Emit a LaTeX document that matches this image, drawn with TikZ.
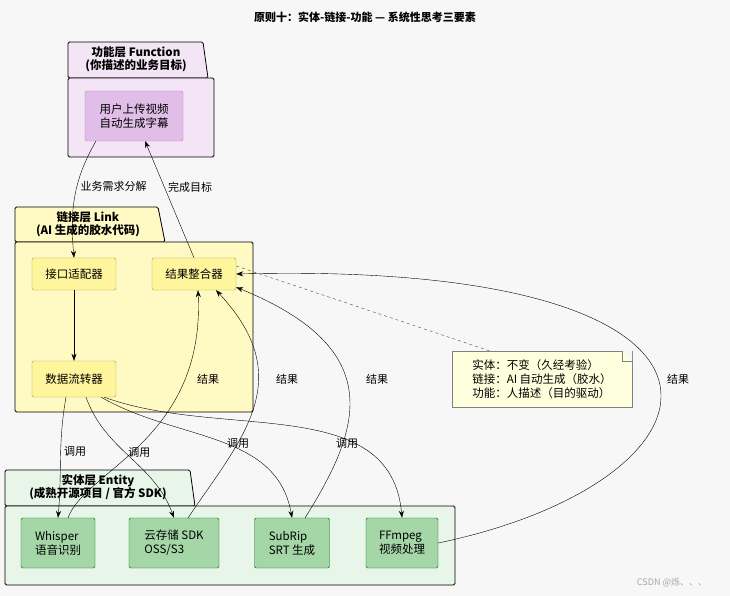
\documentclass[tikz,border=0pt]{standalone}
\usepackage{fontspec}
\setmainfont{Noto Sans CJK SC}
\usetikzlibrary{arrows.meta,positioning}
\definecolor{fnbg}{HTML}{F3E5F5}
\definecolor{fnbox}{HTML}{E1BEE7}
\definecolor{lnbg}{HTML}{FFF9C4}
\definecolor{lnbox}{HTML}{FFF59D}
\definecolor{enbg}{HTML}{E8F5E9}
\definecolor{enbox}{HTML}{A5D6A7}
\definecolor{notebg}{HTML}{FEFFDD}
\begin{document}
\begin{tikzpicture}[x=1pt,y=-1pt,
    font=\fontsize{11.5}{14}\selectfont,
    box/.style={draw=#1,rounded corners=1.5pt,align=left,inner sep=4pt},
    pkg/.style={draw=black,thick,rounded corners=1.5pt},
    tab label/.style={font=\fontsize{11.5}{13}\selectfont\bfseries,align=center},
    every edge/.style={draw,thin,-{Stealth[length=7pt,width=5pt]}},
    back/.style={draw,thin,-{Stealth[length=7pt,width=5pt]}},
    lbl/.style={font=\fontsize{11}{13}\selectfont},
  ]
  \useasboundingbox[fill=white!97!black] (0,0) rectangle (730,596);
  \node[font=\fontsize{11}{13}\selectfont\bfseries] (title) at (365,17) {原则十：实体-链接-功能 — 系统性思考三要素};

  % function layer
  \draw[pkg,fill=fnbg] (68,78) -- (68,42) -- (203,42) -- (208,78) -- cycle;
  \draw[pkg,fill=fnbg] (68,78) rectangle (214,157);
  \node[tab label] (fnlab) at (136,59) {功能层 Function\\(你描述的业务目标)};
  \node[box=violet!50,fill=fnbox,minimum width=98pt,minimum height=50pt] (goal) at (134,116) {用户上传视频\\自动生成字幕};

  % link layer
  \draw[pkg,fill=lnbg] (15,242) -- (15,207) -- (158,207) -- (165,242) -- cycle;
  \draw[pkg,fill=lnbg] (15,242) rectangle (253,412);
  \node[tab label] (lnlab) at (88,224) {链接层 Link\\(AI 生成的胶水代码)};
  \node[box=yellow!60!black,fill=lnbox,minimum width=84pt,minimum height=32pt,align=center] (adapt) at (74,274) {接口适配器};
  \node[box=yellow!60!black,fill=lnbox,minimum width=84pt,minimum height=32pt,align=center] (merge) at (194,274) {结果整合器};
  \node[box=yellow!60!black,fill=lnbox,minimum width=84pt,minimum height=36pt,align=center] (flow) at (74,379) {数据流转器};

  % entity layer
  \draw[pkg,fill=enbg] (5,506) -- (5,470) -- (190,470) -- (195,506) -- cycle;
  \draw[pkg,fill=enbg] (5,506) rectangle (455,585);
  \node[tab label] (enlab) at (98,487) {实体层 Entity\\(成熟开源项目 / 官方 SDK)};
  \node[box=green!40!black,fill=enbox,minimum width=74pt,minimum height=50pt] (whisper) at (58,543) {Whisper\\语音识别};
  \node[box=green!40!black,fill=enbox,minimum width=90pt,minimum height=50pt] (oss) at (174,543) {云存储 SDK\\OSS/S3};
  \node[box=green!40!black,fill=enbox,minimum width=75pt,minimum height=50pt] (srt) at (292,543) {SubRip\\SRT 生成};
  \node[box=green!40!black,fill=enbox,minimum width=72pt,minimum height=50pt] (ffm) at (402,543) {FFmpeg\\视频处理};

  % note
  \node[draw=black!50,fill=notebg,align=left,minimum width=180pt,minimum height=56pt,inner sep=4pt] (note) at (542,379) {实体：不变（久经考验）\\链接：AI 自动生成（胶水）\\功能：人描述（目的驱动）};
  \fill[white!97!black] (note.north east) -- ++(-10,0) -- ++(10,10) -- cycle;
  \draw[black!50] (note.north east) ++(-10,0) -- ++(0,10) -- ++(10,0);

  % connectors
  \coordinate (g1) at (96,141);
  \coordinate (g2) at (145,141);
  \path (g1) edge[out=240,in=95] node[lbl,right,pos=0.4] {业务需求分解} (adapt.north);
  \path (merge.north) edge node[lbl,right,pos=0.6] {完成目标} (g2);
  \path (adapt) edge (flow);
  \path (flow.south) ++(-8,0) edge[out=260,in=85] node[lbl,right,pos=0.45] {调用} (whisper.north);
  \path (flow.south) ++(12,0) edge[out=290,in=110] node[lbl,right,pos=0.45] {调用} (oss.north);
  \path (flow.south east) ++(-15,0) edge[out=-30,in=100] (srt.north);
  \path (flow.south east) ++(-12,0) edge[out=-20,in=95] (ffm.north);
  \node[lbl] (c3) at (238,443) {调用};
  \node[lbl] (c4) at (347,443) {调用};

  \coordinate (w1) at (68,518);
  \coordinate (o1) at (188,518);
  \coordinate (s1) at (305,518);
  \draw[back] (w1) .. controls (85,470) and (205,440) .. ([xshift=4pt]merge.south);
  \draw[back] (o1) .. controls (240,440) and (300,380) .. ([xshift=22pt]merge.south);
  \draw[back] (s1) .. controls (360,430) and (390,350) .. ([yshift=3pt]merge.south east);
  \draw[back] (ffm.east) .. controls (740,480) and (790,260) .. (merge.east);
  \node[lbl] (r1) at (208,379) {结果};
  \node[lbl] (r2) at (287,379) {结果};
  \node[lbl] (r3) at (377,379) {结果};
  \node[lbl] (r4) at (678,379) {结果};

  \coordinate (m1) at ([yshift=8pt]merge.east);
  \coordinate (nt) at (490,351);
  \draw[dashed,black!70] (m1) -- (nt);
  \node[text=black!35,font=\fontsize{9}{10}\selectfont] (mark) at (672,583) {CSDN @烁、、、};
\end{tikzpicture}
\end{document}
